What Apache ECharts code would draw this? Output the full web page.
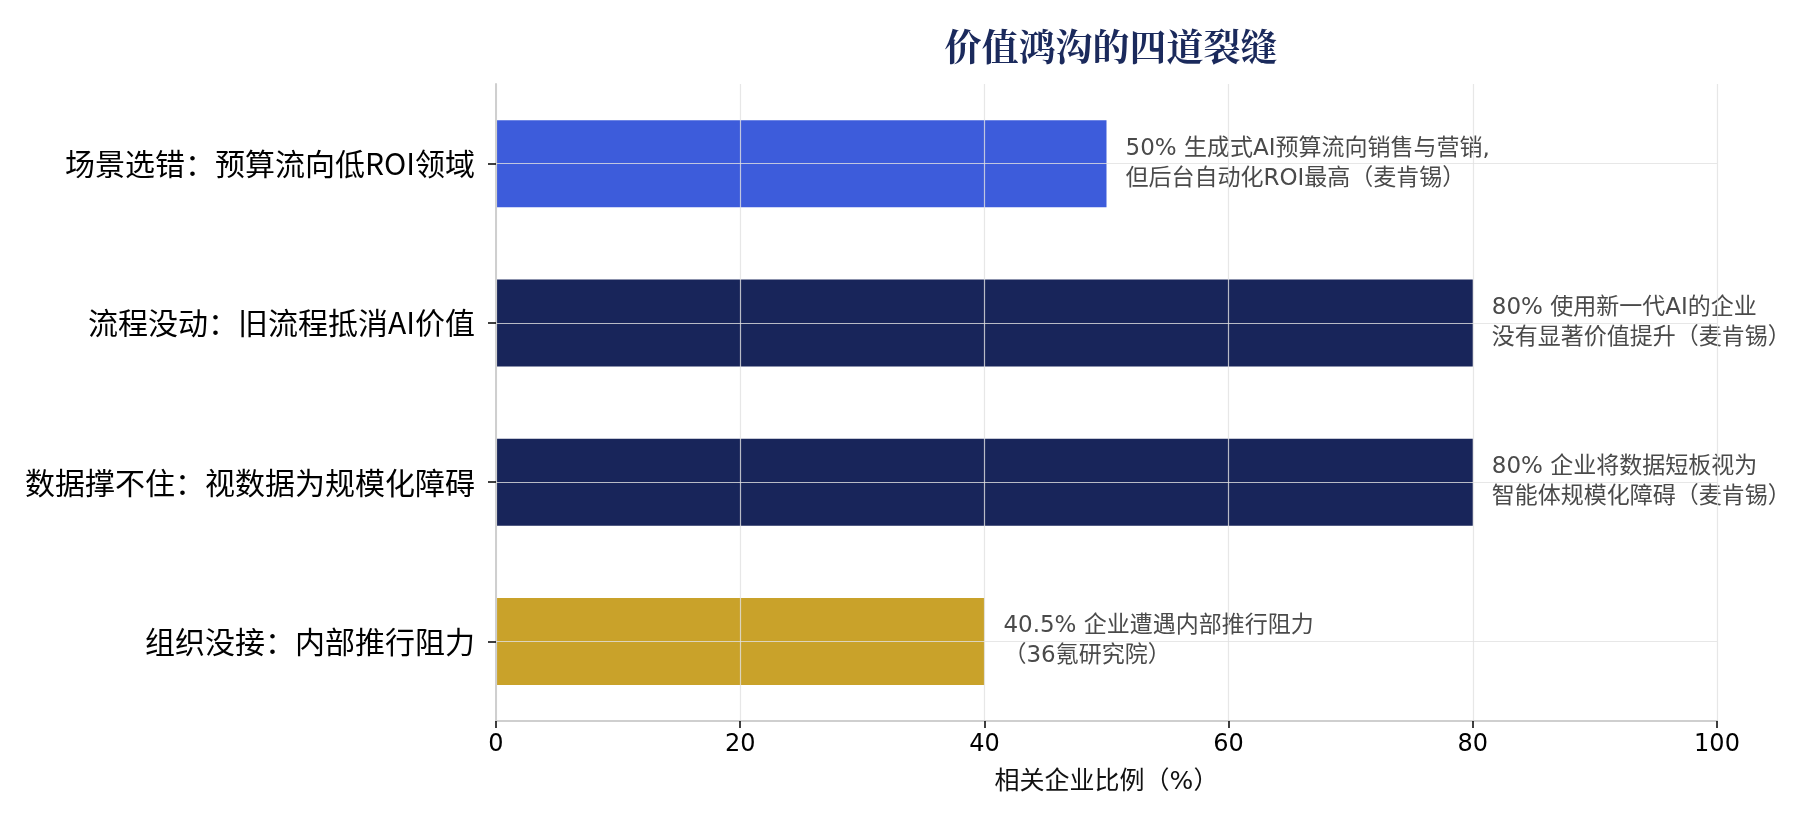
<!DOCTYPE html>
<html>
<head>
<meta charset="utf-8">
<script src="https://cdn.jsdelivr.net/npm/echarts@6/dist/echarts.min.js"></script>
<style>
  html, body { margin: 0; padding: 0; background: #ffffff; }
  #main { width: 1800px; height: 827px; }
</style>
</head>
<body>
<div id="main"></div>
<script>
// 数据
var categories = ['场景选错：预算流向低ROI领域', '流程没动：旧流程抵消AI价值', '数据撑不住：视数据为规模化障碍', '组织没接：内部推行阻力'];
var values = [50, 80, 80, 40];
var barColors = ['#3d5cdb', '#18255a', '#18255a', '#c9a22a'];
var notes = [
  '50% 生成式AI预算流向销售与营销,\n但后台自动化ROI最高（麦肯锡）',
  '80% 使用新一代AI的企业\n没有显著价值提升（麦肯锡）',
  '80% 企业将数据短板视为\n智能体规模化障碍（麦肯锡）',
  '40.5% 企业遭遇内部推行阻力\n（36氪研究院）'
];
var xTicks = [0, 20, 40, 60, 80, 100];

var gridColor = 'rgba(225,225,225,0.8)';

var myChart = echarts.init(document.getElementById('main'));

var option = {
  backgroundColor: '#ffffff',
  animation: false,
  title: {
    text: '价值鸿沟的四道裂缝',
    left: 1106,
    top: 23,
    textAlign: 'center',
    textStyle: {
      fontFamily: '"Noto Serif CJK SC", "Noto Sans CJK SC", serif',
      fontWeight: 'bold',
      fontSize: 37,
      color: '#1b2a5c'
    }
  },
  grid: {
    left: 496,
    right: 83,
    top: 84,
    bottom: 106,
    containLabel: false
  },
  xAxis: {
    type: 'value',
    min: xTicks[0],
    max: xTicks[xTicks.length - 1],
    interval: 20,
    z: 3,
    name: '相关企业比例（%）',
    nameLocation: 'middle',
    nameGap: 49,
    nameTextStyle: {
      fontFamily: '"DejaVu Sans", "Noto Sans CJK SC"',
      fontSize: 25,
      color: '#111'
    },
    axisLine: { show: true, lineStyle: { color: '#cfcfcf', width: 2 } },
    axisTick: { show: true, length: 7, lineStyle: { color: '#000', width: 1.5 } },
    axisLabel: {
      fontFamily: '"DejaVu Sans"',
      fontSize: 24,
      color: '#000',
      margin: 12
    },
    splitLine: { show: true, lineStyle: { color: gridColor, width: 1.2 } }
  },
  yAxis: {
    type: 'category',
    inverse: true,
    data: categories,
    z: 3,
    axisLine: { show: true, lineStyle: { color: '#cfcfcf', width: 2 } },
    axisTick: { show: true, alignWithLabel: true, length: 8, lineStyle: { color: '#000', width: 1.5 } },
    axisLabel: {
      fontFamily: '"Noto Sans CJK SC"',
      fontSize: 30,
      color: '#000',
      margin: 21
    },
    splitLine: { show: false }
  },
  series: [
    {
      type: 'bar',
      barWidth: 87,
      data: values.map(function (v, i) {
        return { value: v, itemStyle: { color: barColors[i] } };
      }),
      label: {
        show: true,
        position: 'right',
        distance: 19,
        align: 'left',
        verticalAlign: 'middle',
        formatter: function (p) { return notes[p.dataIndex]; },
        fontFamily: '"DejaVu Sans", "Noto Sans CJK SC"',
        fontSize: 23,
        lineHeight: 30,
        color: '#4a4a4a'
      },
      markLine: {
        silent: true,
        symbol: 'none',
        label: { show: false },
        lineStyle: { color: gridColor, width: 1.2, type: 'solid' },
        data: categories.map(function (c, i) { return { yAxis: i }; })
      }
    }
  ]
};

myChart.setOption(option);
</script>
</body>
</html>
